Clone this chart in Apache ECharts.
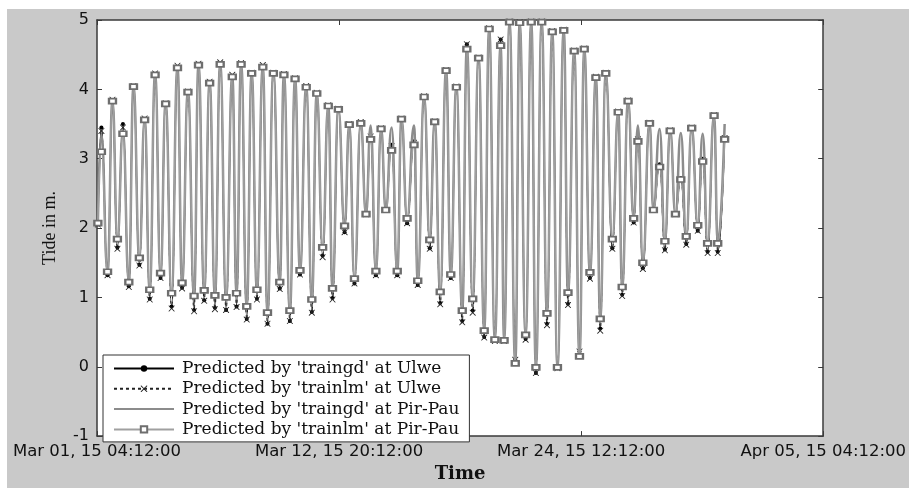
<!DOCTYPE html>
<html>
<head>
<meta charset="utf-8">
<script src="https://cdn.jsdelivr.net/npm/echarts@6/dist/echarts.min.js"></script>
<style>
html,body{margin:0;padding:0;background:#fff;}
#chart{width:909px;height:488px;}
</style>
</head>
<body>
<div id="chart"></div>
<script>
// hours after Mar 01, 15 04:12:00 of each turning point
const hours = [1,5.1,12.2,17.9,23.6,30.0,36.8,42.2,49.0,55.1,61.0,67.2,73.5,79.4,86.3,93.1,98.4,105.2,112.3,117.4,
124.0,130.3,136.4,142.5,149.3,156.5,161.4,166.7,173.2,178.9,185.0,191.8,197.2,204.0,211.4,216.2,223.1,229.1,234.8,242.0,
248.5,254.2,261.0,267.5,272.4,279.2,286.4,291.8,297.8,305.1,311.2,316.5,322.6,328.6,334.0,340.8,347.3,352.2,358.7,366.7,
371.0,378.4,384.9,390.6,397.0,403.8,409.2,415.7,422.5,427.8,434.6,441.4,447.9,453.6,460.2,466.9,470.9,477.2,483.8,488.9,
495.8,502.3,507.7,514.4,520.5,526.6,532.6,539.9,544.8,552.0,558.1,563.6,570.2,577.1,582.1,588.5,596.1,602.9,607.5,614.3,
620.8,625.7,631.4,639.1,643.6,650.8,656.9,663.0,669.1,675.3,681.6,687.9,694.9,700.6,706.3,713.8,718.0,726.0];

const ulweTraingd = [2.05,3.45,1.32,3.84,1.72,3.50,1.16,4.05,1.47,3.57,0.98,4.22,1.28,3.80,0.87,4.32,1.14,3.97,0.82,4.36,
0.96,4.10,0.85,4.37,0.82,4.19,0.87,4.37,0.69,4.24,0.98,4.33,0.62,4.24,1.13,4.22,0.66,4.16,1.33,4.04,
0.79,3.95,1.60,3.77,0.99,3.72,1.94,3.50,1.20,3.52,2.20,3.30,1.32,3.44,2.26,3.20,1.32,3.58,2.07,3.25,
1.18,3.90,1.71,3.54,0.92,4.28,1.28,4.04,0.66,4.65,0.81,4.46,0.43,4.88,0.38,4.72,0.38,4.98,0.10,4.97,
0.40,4.98,-0.09,4.98,0.62,4.84,-0.02,4.86,0.91,4.56,0.22,4.59,1.28,4.18,0.55,4.24,1.71,3.68,1.04,3.84,
2.08,3.30,1.42,3.52,2.26,2.92,1.69,3.41,2.20,2.72,1.77,3.45,1.96,3.00,1.66,3.63,1.66,3.30];

const ulweTrainlm = [2.05,3.40,1.32,3.85,1.70,3.45,1.15,4.05,1.46,3.58,0.97,4.23,1.28,3.80,0.84,4.34,1.13,3.97,0.80,4.37,
0.95,4.11,0.83,4.39,0.82,4.21,0.86,4.38,0.68,4.24,0.97,4.35,0.62,4.24,1.12,4.22,0.66,4.16,1.33,4.05,
0.78,3.95,1.58,3.77,0.97,3.72,1.94,3.50,1.20,3.53,2.20,3.32,1.32,3.44,2.26,3.18,1.32,3.58,2.07,3.23,
1.18,3.90,1.70,3.54,0.90,4.28,1.28,4.04,0.64,4.65,0.78,4.46,0.42,4.88,0.37,4.72,0.37,4.98,0.10,4.97,
0.39,4.98,-0.09,4.98,0.60,4.84,-0.02,4.86,0.89,4.56,0.22,4.59,1.27,4.18,0.52,4.24,1.70,3.68,1.02,3.84,
2.08,3.28,1.41,3.52,2.26,2.90,1.68,3.41,2.20,2.70,1.76,3.45,1.96,2.98,1.64,3.63,1.64,3.30];

const pirTraingd = [2.07,3.35,1.37,3.84,1.84,3.40,1.22,4.04,1.57,3.57,1.11,4.22,1.35,3.80,1.06,4.32,1.21,3.97,1.02,4.36,
1.10,4.10,1.03,4.37,1.00,4.19,1.06,4.37,0.87,4.24,1.11,4.33,0.78,4.24,1.22,4.22,0.81,4.16,1.39,4.04,
0.97,3.95,1.72,3.77,1.13,3.72,2.03,3.50,1.27,3.52,2.20,3.48,1.38,3.44,2.26,3.45,1.38,3.58,2.14,3.48,
1.24,3.90,1.83,3.54,1.08,4.28,1.33,4.04,0.81,4.60,0.98,4.46,0.52,4.88,0.39,4.65,0.38,4.98,0.05,4.97,
0.46,4.98,-0.01,4.98,0.77,4.84,-0.01,4.86,1.07,4.56,0.15,4.59,1.36,4.18,0.69,4.24,1.84,3.68,1.15,3.84,
2.14,3.48,1.50,3.52,2.26,3.43,1.81,3.41,2.20,3.37,1.88,3.45,2.04,3.36,1.78,3.63,1.78,3.50];

const pirTrainlm = [2.07,3.10,1.37,3.83,1.84,3.36,1.22,4.04,1.57,3.56,1.11,4.21,1.35,3.79,1.06,4.31,1.21,3.96,1.02,4.35,
1.10,4.09,1.03,4.36,1.00,4.18,1.06,4.36,0.87,4.23,1.11,4.32,0.78,4.23,1.22,4.21,0.81,4.15,1.39,4.03,
0.97,3.94,1.72,3.76,1.13,3.71,2.03,3.49,1.27,3.51,2.20,3.28,1.38,3.43,2.26,3.12,1.38,3.57,2.14,3.20,
1.24,3.89,1.83,3.53,1.08,4.27,1.33,4.03,0.81,4.58,0.98,4.45,0.52,4.87,0.39,4.63,0.38,4.97,0.05,4.96,
0.46,4.97,-0.01,4.97,0.77,4.83,-0.01,4.85,1.07,4.55,0.15,4.58,1.36,4.17,0.69,4.23,1.84,3.67,1.15,3.83,
2.14,3.25,1.50,3.51,2.26,2.88,1.81,3.40,2.20,2.70,1.88,3.44,2.04,2.96,1.78,3.62,1.78,3.28];

const seriesNames = ["Predicted by 'traingd' at Ulwe","Predicted by 'trainlm' at Ulwe",
                     "Predicted by 'traingd' at Pir-Pau","Predicted by 'trainlm' at Pir-Pau"];
const xTickLabels = ['Mar 01, 15 04:12:00','Mar 12, 15 20:12:00','Mar 24, 15 12:12:00','Apr 05, 15 04:12:00'];
const yTicks = [-1,0,1,2,3,4,5];

const pairs = arr => hours.map((h, i) => [h, arr[i]]);
const xMax = 840, xStep = 280;
const xMark = 'path://M0,0L1,0L5,4L9,0L10,0L10,1L6,5L10,9L10,10L9,10L5,6L1,10L0,10L0,9L4,5L0,1Z';
const axisCol = '#3a3a3a';
const frameAxis = {
  axisLine: {show: true, onZero: false, lineStyle: {color: axisCol, width: 1.5}},
  axisTick: {show: true, inside: true, length: 5, lineStyle: {color: axisCol}},
  splitLine: {show: false}
};

const chart = echarts.init(document.getElementById('chart'), null, {renderer: 'canvas'});
chart.setOption({
  animation: false,
  backgroundColor: '#ffffff',
  graphic: {elements: [{type: 'rect', z: -100, shape: {x: 7, y: 9, width: 902, height: 479}, style: {fill: '#c9c9c9'}}]},
  grid: {left: 97, right: 75, top: 20, bottom: 41, show: true, backgroundColor: '#ffffff', borderWidth: 0},
  legend: {
    orient: 'vertical', left: 103, top: 355,
    backgroundColor: '#ffffff', borderColor: '#333', borderWidth: 1, borderRadius: 0,
    padding: [5, 10, 4, 10], itemWidth: 60, itemHeight: 8, itemGap: 3.3,
    textStyle: {fontFamily: 'DejaVu Serif', fontSize: 17, color: '#111', lineHeight: 17, padding: [0, 0, 0, 3]},
    data: [
      {name: seriesNames[0]},
      {name: seriesNames[1]},
      {name: seriesNames[2], itemStyle: {color: 'rgba(0,0,0,0)', borderColor: 'rgba(0,0,0,0)', borderWidth: 0, opacity: 0}},
      {name: seriesNames[3]}
    ]
  },
  xAxis: [Object.assign({
    type: 'value', min: 0, max: xMax, interval: xStep, position: 'bottom',
    name: 'Time', nameLocation: 'middle', nameGap: 25,
    nameTextStyle: {fontFamily: 'DejaVu Serif', fontWeight: 'bold', fontSize: 18, color: '#111'},
    axisLabel: {margin: 7, fontFamily: 'DejaVu Sans', fontSize: 16.5, color: '#111', showMaxLabel: true, showMinLabel: true,
      formatter: v => xTickLabels[Math.round(v / xStep)] || ''}
  }, frameAxis), Object.assign({
    type: 'value', min: 0, max: xMax, interval: xStep, position: 'top',
    axisLabel: {show: false}
  }, frameAxis)],
  yAxis: [Object.assign({
    type: 'value', min: yTicks[0], max: yTicks[yTicks.length - 1], interval: 1, position: 'left',
    name: 'Tide in m.', nameLocation: 'middle', nameGap: 38,
    nameTextStyle: {fontFamily: 'Liberation Serif', fontSize: 18, color: '#111'},
    axisLabel: {margin: 8, fontFamily: 'DejaVu Sans', fontSize: 16, color: '#111'}
  }, frameAxis), Object.assign({
    type: 'value', min: yTicks[0], max: yTicks[yTicks.length - 1], interval: 1, position: 'right',
    axisLabel: {show: false}
  }, frameAxis)],
  series: [{
    name: seriesNames[0], type: 'line', data: pairs(ulweTraingd),
    smooth: 0.5, smoothMonotone: 'x',
    symbol: 'circle', symbolSize: 4, showAllSymbol: true,
    lineStyle: {color: '#000', width: 1.2}, itemStyle: {color: '#000'}, z: 2
  }, {
    name: seriesNames[1], type: 'line', data: pairs(ulweTrainlm),
    smooth: 0.5, smoothMonotone: 'x',
    symbol: xMark, symbolSize: 6, showAllSymbol: true,
    lineStyle: {color: '#222', width: 1, type: [3, 3]}, itemStyle: {color: '#222'}, z: 3
  }, {
    name: seriesNames[2], type: 'line', data: pairs(pirTraingd),
    smooth: 0.5, smoothMonotone: 'x',
    symbol: 'none',
    lineStyle: {color: '#8c8c8c', width: 2.5}, itemStyle: {color: '#8c8c8c'}, z: 4
  }, {
    name: seriesNames[3], type: 'line', data: pairs(pirTrainlm),
    smooth: 0.5, smoothMonotone: 'x',
    symbol: 'emptyRect', symbolSize: [7, 5], showAllSymbol: true,
    lineStyle: {color: '#a0a0a0', width: 1.5}, itemStyle: {color: '#6e6e6e', borderColor: '#6e6e6e', borderWidth: 1}, z: 5
  }]
});
</script>
</body>
</html>
